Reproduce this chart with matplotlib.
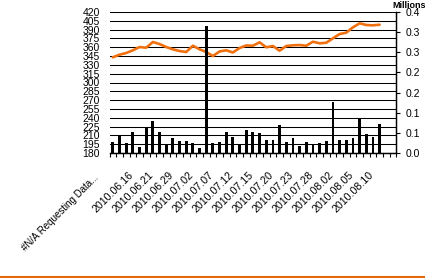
import numpy as np
import matplotlib.pyplot as plt
from matplotlib.ticker import FixedLocator
from matplotlib.transforms import ScaledTranslation

plt.rcParams['font.family'] = ['Liberation Sans', 'DejaVu Sans']

# Etiquetas do eixo x (uma a cada 3 categorias)
rotulos = ['#N/A Requesting Data...', '2010.06.16', '2010.06.21', '2010.06.29',
           '2010.07.02', '2010.07.07', '2010.07.12', '2010.07.15', '2010.07.20',
           '2010.07.23', '2010.07.28', '2010.08.02', '2010.08.05', '2010.08.10']
n_categorias = 43

# Preço (eixo esquerdo)
preco = [342.9, 347.3, 350.2, 354.8, 360.4, 359.2, 368.9, 365.5, 360.4, 356.5,
         353.6, 351.9, 362.6, 356.5, 351.9, 345.1, 352.8, 354.8, 351.1, 358.7,
         363.0, 362.6, 368.4, 359.9, 362.1, 354.1, 362.1, 363.3, 363.8, 362.6,
         369.4, 366.7, 367.7, 375.2, 382.5, 384.8, 393.9, 400.7, 397.9, 397.3,
         398.4]

# Volume em milhões (eixo direito)
volume = [0.0265, 0.0414, 0.0240, 0.0513, 0.0157, 0.0629, 0.0794, 0.0513, 0.0232,
          0.0364, 0.0298, 0.0298, 0.0257, 0.0132, 0.3150, 0.0240, 0.0280, 0.0521,
          0.0397, 0.0215, 0.0571, 0.0521, 0.0488, 0.0314, 0.0314, 0.0695, 0.0265,
          0.0380, 0.0182, 0.0280, 0.0215, 0.0257, 0.0290, 0.1258, 0.0330, 0.0323,
          0.0380, 0.0876, 0.0464, 0.0405, 0.0720]

ticks_esq = list(range(180, 421, 15))
ticks_dir = [0.0, 0.05, 0.10, 0.15, 0.20, 0.25, 0.30, 0.35]
rotulos_dir = ['0.0', '0.1', '0.1', '0.2', '0.2', '0.3', '0.3', '0.4']

W, H = 425, 278
fig = plt.figure(figsize=(W / 100, H / 100), dpi=100)
x0, x1, y0, y1 = 109.5, 396.3, 12, 153
ax = fig.add_axes([x0 / W, 1 - y1 / H, (x1 - x0) / W, (y1 - y0) / H])
ax2 = ax.twinx()

x = np.arange(len(preco))
ax.plot(x, preco, color='#F0700F', lw=1.9, solid_capstyle='round', zorder=3)
ax.set_ylim(180, 420)
ax.set_yticks(ticks_esq)
ax.tick_params(axis='y', length=0, pad=7, labelsize=7.5)
ax.grid(True, axis='y', color='black', lw=0.75)
ax.set_axisbelow(True)

ax2.bar(np.arange(len(volume)), volume, width=0.42, color='black', zorder=3)
ax2.set_ylim(0, 0.35)
ax2.set_yticks(ticks_dir)
ax2.set_yticklabels(rotulos_dir)
ax2.tick_params(axis='y', length=3, width=0.8, pad=4, labelsize=7.5)

ax.set_xlim(-0.5, n_categorias - 0.5)
ax.xaxis.set_major_locator(FixedLocator(np.arange(n_categorias + 1) - 0.5))
ax.set_xticklabels([])
ax.tick_params(axis='x', length=3, width=0.8, direction='out')

# Rótulos girados a 45° (uma a cada 3 categorias)
for i, rot in enumerate(rotulos):
    if i == 0:
        desloc = ScaledTranslation(-0.19, -0.19, fig.dpi_scale_trans)
        tam = 7.0
    else:
        desloc = ScaledTranslation(-0.045, -0.17, fig.dpi_scale_trans)
        tam = 7.7
    ax.text(3 * i, 0, rot, transform=ax.get_xaxis_transform() + desloc,
            rotation=45, rotation_mode='anchor', ha='right', va='top',
            fontsize=tam)

for a in (ax, ax2):
    a.spines['top'].set_visible(False)
    a.spines['left'].set_visible(False)
    a.spines['bottom'].set_linewidth(0.9)
    a.spines['right'].set_linewidth(0.9)
    a.set_facecolor('none')

fig.text(409 / W, 1 - 0.5 / H, 'Millions', ha='center', va='top',
         fontsize=6.5, fontweight='bold')

# Linha laranja no rodapé
fig.add_artist(plt.Line2D([0, 1], [1 - 276.5 / H] * 2, color='#E8650A', lw=2.2,
                          transform=fig.transFigure))

fig.savefig('out.png', dpi=100)
